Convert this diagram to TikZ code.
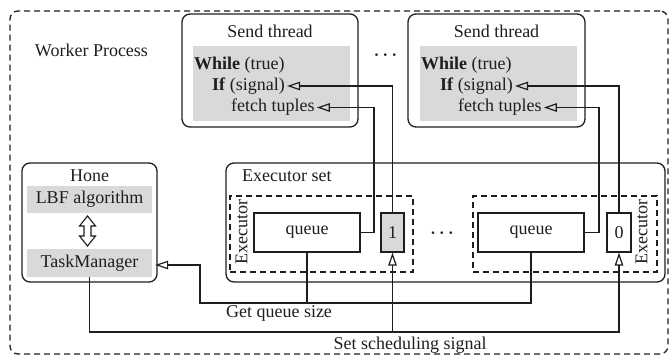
\documentclass[tikz,border=0pt]{standalone}
\usepackage{fontspec}
\setmainfont{Liberation Serif}
\usetikzlibrary{arrows.meta}
\definecolor{lgray}{RGB}{217,217,217}
\definecolor{ink}{RGB}{30,30,30}
\begin{document}
\begin{tikzpicture}[x=1pt,y=-1pt,
  font=\fontsize{18}{21}\selectfont, color=ink,
  rbox/.style={draw, line width=1.3pt, rounded corners=8pt, inner sep=0pt},
  gbox/.style={fill=lgray, inner sep=0pt},
  pbox/.style={draw, line width=1.3pt, inner sep=0pt},
  dbox/.style={draw, line width=1.3pt, dash pattern=on 6pt off 4pt, inner sep=0pt},
  txt/.style={inner sep=0pt},
  conn/.style={line width=1.2pt},
  tip/.style={-{Triangle[open,length=13pt,width=8.5pt,line width=1.2pt]}},
  dotrow/.style={inner sep=0pt, font=\fontsize{18}{21}\selectfont\boldmath}
]
\useasboundingbox (0,0) rectangle (670,357);
% outer worker process
\node[rbox, dash pattern=on 6pt off 4pt, minimum width=658pt, minimum height=343pt] (wp) at (339,182.5) {};
\node[txt] (wpl) at (91.5,50) {Worker Process};

% send threads
\node[rbox, minimum width=176pt, minimum height=113pt] (st1) at (270,70.5) {};
\node[gbox, minimum width=157pt, minimum height=75pt] (g1) at (271.5,83.5) {};
\node[txt] (st1l) at (270,31) {Send thread};
\node[txt, anchor=west] (while1) at (194,65) {\textbf{While} (true)};
\node[txt, anchor=west] (if1) at (212,86) {\textbf{If} (signal)};
\node[txt, anchor=west] (fetch1) at (231,107.5) {fetch tuples};

\node[rbox, minimum width=177pt, minimum height=113pt] (st2) at (496.5,70.5) {};
\node[gbox, minimum width=157pt, minimum height=75pt] (g2) at (498.5,83.5) {};
\node[txt] (st2l) at (496.5,31) {Send thread};
\node[txt, anchor=west] (while2) at (421,65) {\textbf{While} (true)};
\node[txt, anchor=west] (if2) at (440,86) {\textbf{If} (signal)};
\node[txt, anchor=west] (fetch2) at (458,107.5) {fetch tuples};

\node[dotrow] (dots1) at (385.5,55.7) {$\cdots$};

% Hone
\node[rbox, minimum width=135pt, minimum height=119pt] (hone) at (89.5,222.5) {};
\node[txt] (honel) at (89.5,176) {Hone};
\node[gbox, minimum width=125pt, minimum height=27pt] (lbf) at (89.5,199.5) {LBF algorithm};
\node[gbox, minimum width=125pt, minimum height=28pt] (tm) at (89.5,263) {TaskManager};
\draw[line width=1.1pt, fill=white] (87.5,216) -- (95.5,226) -- (91,226) -- (91,236) -- (95.5,236)
  -- (87.5,246) -- (79.5,236) -- (84,236) -- (84,226) -- (79.5,226) -- cycle;

% Executor set
\node[rbox, minimum width=439pt, minimum height=119pt] (es) at (445.5,222.5) {};
\node[txt, anchor=west] (esl) at (242,176) {Executor set};

\node[dbox, minimum width=183pt, minimum height=76pt] (ex1) at (321.5,234) {};
\node[txt, rotate=90] (ex1l) at (241.5,232) {Executor};
\node[pbox, minimum width=106pt, minimum height=39pt] (q1) at (307,232.5) {queue};
\node[pbox, fill=lgray, minimum width=23pt, minimum height=39pt] (one) at (392.5,232.5) {1};

\node[dotrow] (dots2) at (442,233) {$\cdots$};

\node[dbox, minimum width=184pt, minimum height=76pt] (ex2) at (565,234) {};
\node[txt, rotate=90] (ex2l) at (641.5,232) {Executor};
\node[pbox, minimum width=106pt, minimum height=39pt] (q2) at (531,232.5) {queue};
\node[pbox, minimum width=24pt, minimum height=39pt] (zero) at (619,232.5) {0};

% helper coordinates
\coordinate (b1) at (374,0);
\coordinate (b2) at (599,0);
\coordinate (gl) at (200,303);
\coordinate (sl) at (0,332);

% connectors to send threads
\draw[conn,tip] (q1.east) -- (q1.east -| b1) |- ([xshift=2pt]fetch1.east);
\draw[conn,tip] (one.north) |- ([xshift=2pt]if1.east);
\draw[conn,tip] (q2.east) -- (q2.east -| b2) |- ([xshift=2pt]fetch2.east);
\draw[conn,tip] (zero.north) |- ([xshift=2pt]if2.east);

% get queue size
\draw[conn,tip] (q2.south) |- (gl) |- ([xshift=3pt,yshift=-2pt]tm.east);
\draw[conn] (q1.south) -- (q1.south |- gl);
\node[txt] (gqs) at (279,313) {Get queue size};

% set scheduling signal
\draw[conn,tip] (tm.south) |- (zero.south |- sl) -- (zero.south);
\draw[conn,tip] (one.south |- sl) -- (one.south);
\node[txt] (sss) at (410,345) {Set scheduling signal};
\end{tikzpicture}
\end{document}
